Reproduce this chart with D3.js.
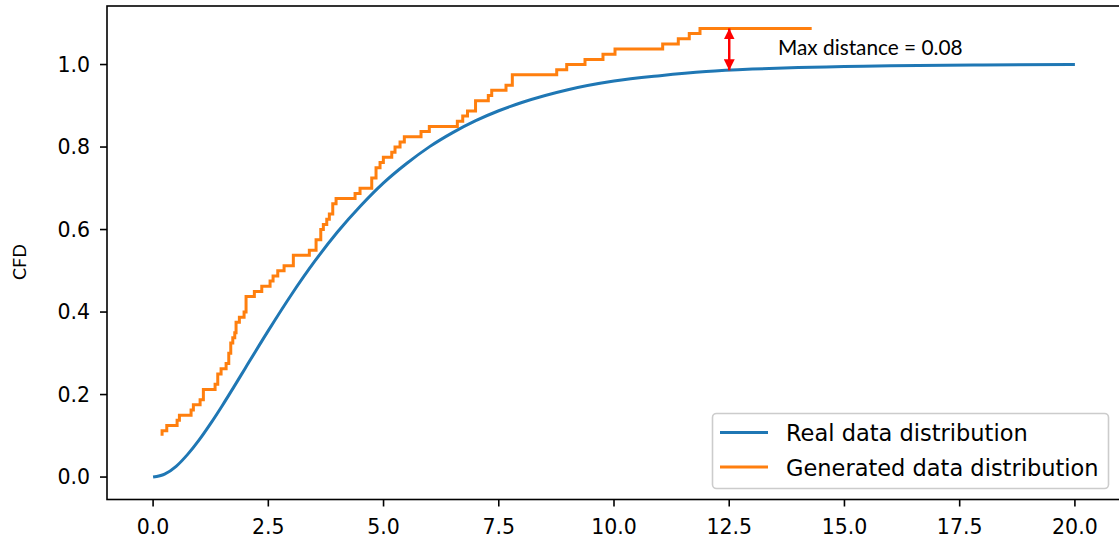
<html><head>
  <script src="https://d3js.org/d3.v7.min.js"></script>
  <style>
    body { margin: 0; background: white; }
  </style>
</head>
<body>
  <svg id="chart" width="1119" height="537"></svg>
  <script>
    // real distribution
    const realX = [0, 0.25, 0.5, 0.75, 1, 1.25, 1.5, 1.75, 2, 2.5, 3, 3.5, 4, 4.5, 5, 5.5, 6,
                   6.5, 7, 7.5, 8, 9, 10, 11, 12, 13, 14, 15, 16, 18, 20];
    const realY = [0, 0.007, 0.026, 0.055, 0.090, 0.130, 0.173, 0.218, 0.264, 0.355, 0.442,
                   0.522, 0.594, 0.657, 0.713, 0.760, 0.801, 0.835, 0.864, 0.888, 0.908,
                   0.939, 0.960, 0.973, 0.983, 0.989, 0.993, 0.995, 0.997, 0.999, 1.0];

    // generated distribution, step corners (step drawn "pre")
    const genX = [0.195, 0.297, 0.521, 0.571, 0.824, 0.874, 1.020, 1.091, 1.345, 1.403,
                  1.475, 1.584, 1.642, 1.685, 1.729, 1.772, 1.800, 1.872, 1.974, 2.017,
                  2.197, 2.358, 2.538, 2.603, 2.705, 2.842, 3.043, 3.390, 3.536, 3.638,
                  3.694, 3.768, 3.824, 3.898, 3.970, 4.382, 4.490, 4.744, 4.837, 4.924,
                  4.996, 5.178, 5.249, 5.358, 5.451, 5.813, 5.993, 6.601, 6.718, 6.822,
                  6.996, 7.273, 7.347, 7.657, 7.794, 8.757, 8.974, 9.371, 9.761, 10.022,
                  11.056, 11.395, 11.633, 11.866, 14.289];
    const genY = [0.1, 0.1125, 0.125, 0.1375, 0.15, 0.1625, 0.175, 0.1875, 0.2125, 0.225,
                  0.25, 0.2625, 0.275, 0.3, 0.325, 0.3375, 0.35, 0.375, 0.3875, 0.4,
                  0.4375, 0.45, 0.4625, 0.475, 0.4875, 0.5, 0.5125, 0.5375, 0.55, 0.575,
                  0.6, 0.6125, 0.625, 0.6375, 0.6625, 0.675, 0.6875, 0.7, 0.725, 0.75,
                  0.7625, 0.775, 0.7875, 0.8, 0.8125, 0.825, 0.8375, 0.85, 0.8625, 0.875,
                  0.8875, 0.9125, 0.925, 0.9375, 0.95, 0.975, 0.9875, 1.0, 1.0125, 1.025,
                  1.0375, 1.05, 1.0625, 1.075, 1.0875];

    const xTicks = [0, 2.5, 5, 7.5, 10, 12.5, 15, 17.5, 20];
    const yTicks = [0, 0.2, 0.4, 0.6, 0.8, 1.0];
    const legendLabels = ["Real data distribution", "Generated data distribution"];
    const seriesColors = ["#1f77b4", "#ff7f0e"];

    // max distance marker
    const gapX = 12.5;
    const gapLow = 0.986;
    const gapHigh = 1.0875;
    const gapText = "Max distance = 0.08";

    let svg = d3.select("svg#chart");

    let pLeft = 107, pRight = 1121, pTop = 6, pBottom = 499.5;

    let x = d3.scaleLinear().domain([-1, 21]).range([pLeft, pRight]);
    let y = d3.scaleLinear().domain([-0.0544, 1.1419]).range([pBottom, pTop]);

    let defs = svg.append("defs");
    defs.append("clipPath").attr("id", "plotclip")
       .append("rect")
       .attr("x", pLeft).attr("y", pTop)
       .attr("width", pRight - pLeft).attr("height", pBottom - pTop);

    let plot = svg.append("g").attr("clip-path", "url(#plotclip)");

    const real = realX.map((d, i) => [d, realY[i]]);
    const gen = genX.map((d, i) => [d, genY[i]]);

    plot.append("path")
        .datum(real)
        .attr("d", d3.line().x(d => x(d[0])).y(d => y(d[1])).curve(d3.curveMonotoneX))
        .style("fill", "none")
        .style("stroke", seriesColors[0])
        .style("stroke-width", 3);

    plot.append("path")
        .datum(gen)
        .attr("d", d3.line().x(d => x(d[0])).y(d => y(d[1])).curve(d3.curveStepBefore))
        .style("fill", "none")
        .style("stroke", seriesColors[1])
        .style("stroke-width", 3)
        .style("stroke-linejoin", "miter");

    // red double arrow
    defs.append("marker")
        .attr("id", "head")
        .attr("viewBox", "0 0 10 10")
        .attr("refX", 10).attr("refY", 5)
        .attr("markerWidth", 11).attr("markerHeight", 11)
        .attr("markerUnits", "userSpaceOnUse")
        .attr("orient", "auto-start-reverse")
        .append("path")
        .attr("d", "M0,0 L10,5 L0,10 Z")
        .style("fill", "red");

    svg.append("line")
       .attr("x1", x(gapX)).attr("x2", x(gapX))
       .attr("y1", y(gapLow)).attr("y2", y(gapHigh))
       .style("stroke", "red")
       .style("stroke-width", 2.5)
       .attr("marker-start", "url(#head)")
       .attr("marker-end", "url(#head)");

    svg.append("text")
       .text(gapText)
       .attr("x", 778)
       .attr("y", 55)
       .style("font-family", "Lato")
       .style("font-size", "20.8px")
       .style("fill", "black");

    // axes frame
    svg.append("rect")
       .attr("x", pLeft).attr("y", pTop)
       .attr("width", pRight - pLeft).attr("height", pBottom - pTop)
       .style("fill", "none")
       .style("stroke", "black")
       .style("stroke-width", 1.6);

    xTicks.forEach(d => {
      svg.append("line")
         .attr("x1", x(d)).attr("x2", x(d))
         .attr("y1", pBottom).attr("y2", pBottom + 7)
         .style("stroke", "black").style("stroke-width", 1.6);
      svg.append("text")
         .text(d.toFixed(1))
         .attr("x", x(d))
         .attr("y", pBottom + 34)
         .style("text-anchor", "middle")
         .style("font-family", "DejaVu Sans")
         .style("font-size", "20.5px");
    });

    yTicks.forEach(d => {
      svg.append("line")
         .attr("x1", pLeft - 7).attr("x2", pLeft)
         .attr("y1", y(d)).attr("y2", y(d))
         .style("stroke", "black").style("stroke-width", 1.6);
      svg.append("text")
         .text(d.toFixed(1))
         .attr("x", pLeft - 17)
         .attr("y", y(d))
         .style("text-anchor", "end")
         .style("dominant-baseline", "central")
         .style("font-family", "DejaVu Sans")
         .style("font-size", "20.5px");
    });

    svg.append("text")
       .text("CFD")
       .attr("transform", "translate(26,262) rotate(-90)")
       .style("text-anchor", "middle")
       .style("font-family", "Lato")
       .style("font-size", "18px");

    // legend
    let lg = svg.append("g");
    lg.append("rect")
      .attr("x", 712.5).attr("y", 413.5)
      .attr("width", 396).attr("height", 75)
      .attr("rx", 4)
      .style("fill", "white").style("fill-opacity", 0.8)
      .style("stroke", "#cccccc").style("stroke-width", 1.6);

    legendLabels.forEach((d, i) => {
      let ly = 432.5 + i * 34.5;
      lg.append("line")
        .attr("x1", 720).attr("x2", 768)
        .attr("y1", ly).attr("y2", ly)
        .style("stroke", seriesColors[i])
        .style("stroke-width", 3);
      lg.append("text")
        .text(d)
        .attr("x", 786)
        .attr("y", ly + 8.5)
        .style("font-family", "DejaVu Sans")
        .style("font-size", "22.5px");
    });
  </script>
</body>
</html>
